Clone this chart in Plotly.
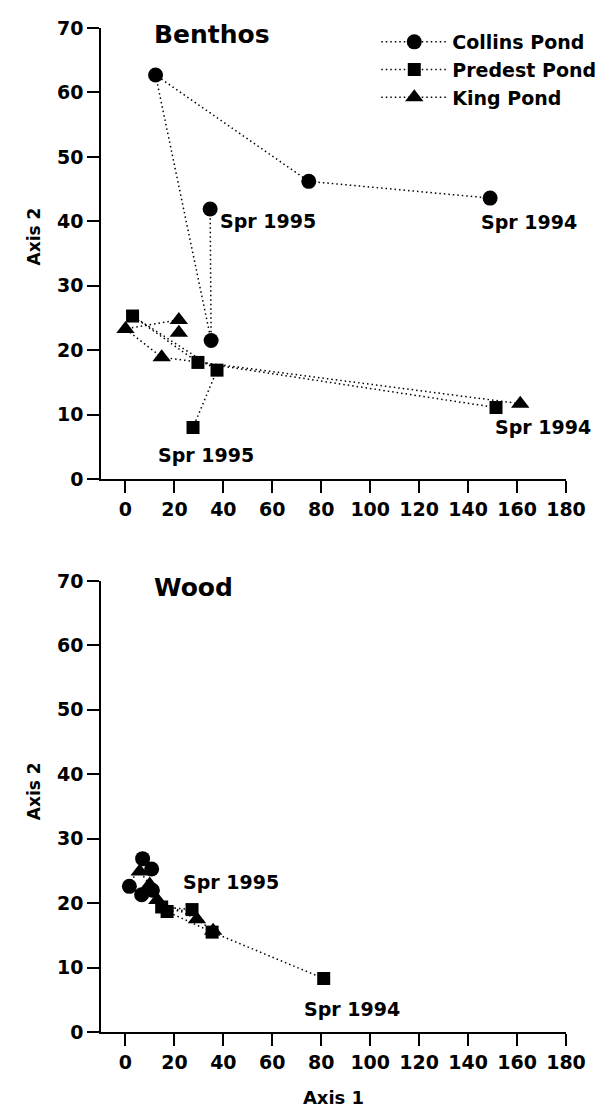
import plotly.graph_objects as go
from plotly.subplots import make_subplots

# ---- data ----
ponds = ["Collins Pond", "Predest Pond", "King Pond"]
symbols = ["circle", "square", "triangle-up"]
marker_sizes = [15, 13, 16]

# Benthos panel
benthos_collins_x = [149.0, 74.9, 12.3, 35.0, 34.6]
benthos_collins_y = [43.6, 46.2, 62.7, 21.5, 41.9]
benthos_predest_x = [151.4, 29.6, 2.9, 37.4, 27.6]
benthos_predest_y = [11.1, 18.1, 25.3, 16.9, 8.0]
benthos_king_x = [161.3, 14.8, 0.0, 21.8, 21.8]
benthos_king_y = [11.7, 18.9, 23.3, 24.7, 22.7]

# Wood panel
wood_collins_x = [11.0, 6.6, 1.6, 7.0, 10.7]
wood_collins_y = [22.0, 21.3, 22.6, 26.9, 25.3]
wood_predest_x = [81.0, 35.4, 17.0, 27.2, 14.8]
wood_predest_y = [8.3, 15.5, 18.7, 19.0, 19.4]
wood_king_x = [35.8, 29.2, 13.0, 9.9, 5.8]
wood_king_y = [15.7, 17.5, 20.5, 22.9, 24.9]

panel_titles = ["Benthos", "Wood"]
x_ticks = [0, 20, 40, 60, 80, 100, 120, 140, 160, 180]
y_ticks = [0, 10, 20, 30, 40, 50, 60, 70]
y_title = "Axis 2"
x_title = "Axis 1"

# labels: (panel, text, x, y, xanchor)
label_panel = [1, 1, 1, 1, 2, 2]
label_text = ["Spr 1995", "Spr 1994", "Spr 1995", "Spr 1994", "Spr 1995", "Spr 1994"]
label_x = [37.9, 165.0, 32.9, 170.8, 43.2, 92.5]
label_y = [40.1, 39.9, 3.8, 8.1, 23.3, 3.5]
label_anchor = ["left", "center", "center", "center", "center", "center"]

FONT = "DejaVu Sans"

fig = make_subplots(rows=2, cols=1, vertical_spacing=0.1)

series = [
    (1, [benthos_collins_x, benthos_predest_x, benthos_king_x],
        [benthos_collins_y, benthos_predest_y, benthos_king_y]),
    (2, [wood_collins_x, wood_predest_x, wood_king_x],
        [wood_collins_y, wood_predest_y, wood_king_y]),
]
for row, xs, ys in series:
    for i, name in enumerate(ponds):
        fig.add_trace(go.Scatter(
            x=xs[i], y=ys[i], name=name, mode="lines+markers",
            line=dict(color="black", width=1.5, dash="1.5px,3px"),
            marker=dict(symbol=symbols[i], size=marker_sizes[i], color="black",
                        line=dict(width=0)),
            showlegend=(row == 1), legendgroup=name,
        ), row=row, col=1)

# page body has an 8px margin, so the figure is drawn 8px smaller and offset
W, H = 602, 1112
ml, mr, mt, mb = 93, 43, 9, 88
ph = H - mt - mb
top_dom = [1 - (473 - 17) / ph, 1.0]
bot_dom = [0.0, (1032 - 576) / ph]

axis_common = dict(
    showgrid=False, zeroline=False, showline=True, linecolor="black", linewidth=1.5,
    ticks="outside", ticklen=12, tickwidth=1.5, tickcolor="black",
    tickfont=dict(family=FONT, size=19, color="black", weight="bold"),
)
for r in (1, 2):
    fig.update_xaxes(range=[-10, 180], tickvals=x_ticks, row=r, col=1, **axis_common)
    fig.update_yaxes(range=[0, 70], tickvals=y_ticks, row=r, col=1, **axis_common)
fig.update_yaxes(domain=top_dom, row=1, col=1)
fig.update_yaxes(domain=bot_dom, row=2, col=1)
fig.update_xaxes(title=dict(text=x_title, standoff=20,
                            font=dict(family=FONT, size=18, color="black", weight="bold")),
                 row=2, col=1)

# y-axis titles (placed slightly above the panel centre, as in the original)
for yc in (0.792, 0.2394):
    fig.add_annotation(text=y_title, xref="paper", yref="paper", x=-0.145, y=yc,
                       textangle=-90, showarrow=False, xanchor="center", yanchor="middle",
                       font=dict(family=FONT, size=17, color="black", weight="bold"))

for k, t in enumerate(panel_titles):
    xr = "x" if k == 0 else "x2"
    yr = "y" if k == 0 else "y2"
    fig.add_annotation(text=t, x=10.7, y=69.0, xref=xr, yref=yr, showarrow=False,
                       xanchor="left", yanchor="middle",
                       font=dict(family=FONT, size=25, color="black", weight="bold"))

for p, t, lx, ly, a in zip(label_panel, label_text, label_x, label_y, label_anchor):
    xr = "x" if p == 1 else "x2"
    yr = "y" if p == 1 else "y2"
    fig.add_annotation(text=t, x=lx, y=ly, xref=xr, yref=yr, showarrow=False,
                       xanchor=a, yanchor="middle",
                       font=dict(family=FONT, size=19, color="black", weight="bold"))

fig.update_layout(
    width=W, height=H, margin=dict(l=ml, r=mr, t=mt, b=mb),
    plot_bgcolor="white", paper_bgcolor="white",
    legend=dict(x=0.592, y=1.005, xanchor="left", yanchor="top",
                bgcolor="rgba(0,0,0,0)", tracegroupgap=0, itemwidth=66,
                font=dict(family=FONT, size=19, color="black", weight="bold")),
)

fig.write_html("out.html")
